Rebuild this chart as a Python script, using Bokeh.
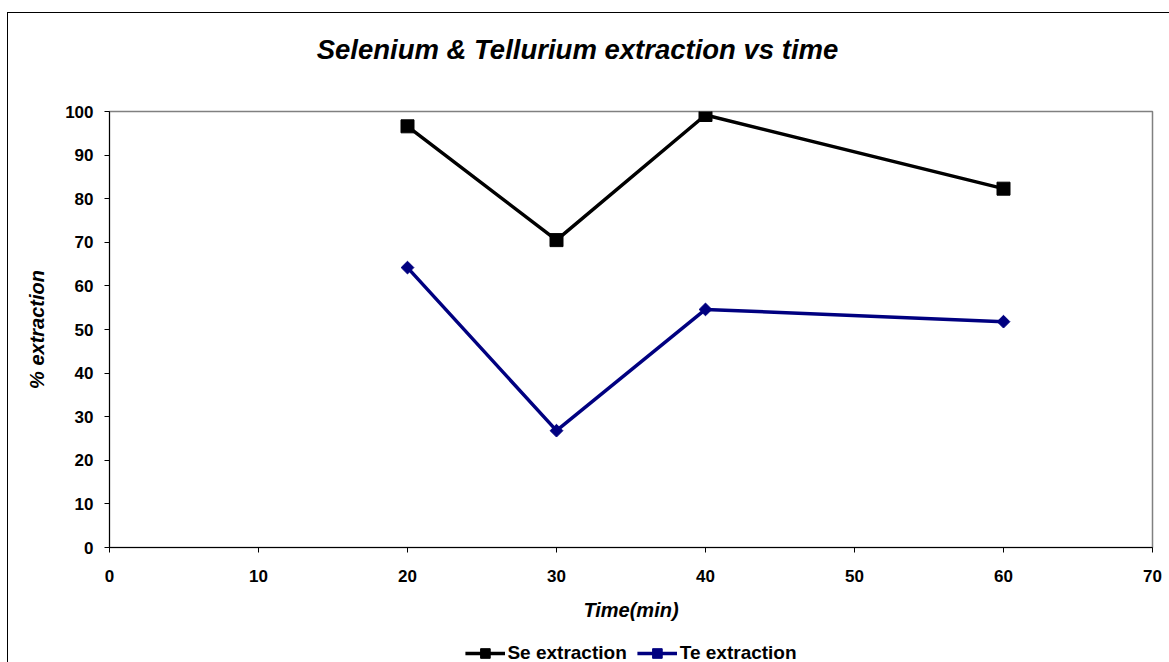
import math
from bokeh.plotting import figure
from bokeh.layouts import column
from bokeh.models import Range1d, Legend, LegendItem, FixedTicker, Label
from bokeh.embed import file_html
from bokeh.resources import INLINE

time_min = [20, 30, 40, 60]
se_extraction = [96.6, 70.5, 99.2, 82.3]
te_extraction = [64.2, 26.8, 54.6, 51.8]
x_ticks = [0, 10, 20, 30, 40, 50, 60, 70]
y_ticks = [0, 10, 20, 30, 40, 50, 60, 70, 80, 90, 100]
title_text = "Selenium & Tellurium extraction vs time"
series_names = ["Se extraction", "Te extraction"]
series_colors = ["black", "#000080"]

FONT = "Liberation Sans"
W = 1161

# ---- title strip ----
pt = figure(width=W, height=86, output_backend="svg", toolbar_location=None,
            x_range=Range1d(0, 1), y_range=Range1d(0, 1),
            x_axis_location=None, y_axis_location=None,
            min_border_left=0, min_border_right=0, min_border_top=0, min_border_bottom=0)
pt.outline_line_color = None
pt.xgrid.visible = False
pt.ygrid.visible = False
pt.add_layout(Label(x=468, y=50, x_units="screen", y_units="screen", text=title_text,
                    text_align="center", text_baseline="middle", text_font=FONT,
                    text_font_size="27.5px", text_font_style="bold italic",
                    text_color="black"))

# ---- main chart ----
p = figure(frame_width=1043, frame_height=436, output_backend="svg", toolbar_location=None,
           x_range=Range1d(0, 70), y_range=Range1d(0, 100),
           min_border_left=101, min_border_right=17, min_border_top=12, min_border_bottom=90)
p.xgrid.visible = False
p.ygrid.visible = False
p.outline_line_color = "#808080"
p.outline_line_width = 1.5
p.background_fill_color = "white"
p.border_fill_color = "white"

for ax in (p.xaxis[0], p.yaxis[0]):
    ax.axis_line_color = "black"
    ax.axis_line_width = 1
    ax.major_tick_line_color = "black"
    ax.major_tick_in = 0
    ax.major_tick_out = 5
    ax.minor_tick_line_color = None
    ax.major_label_text_font = FONT
    ax.major_label_text_font_size = "17px"
    ax.major_label_text_font_style = "bold"
    ax.major_label_text_color = "black"
    ax.axis_label_text_font = FONT
    ax.axis_label_text_font_size = "20px"
    ax.axis_label_text_font_style = "bold italic"
    ax.axis_label_text_color = "black"

p.xaxis[0].ticker = FixedTicker(ticks=x_ticks)
p.yaxis[0].ticker = FixedTicker(ticks=y_ticks)
p.xaxis[0].axis_label = "Time(min)"
p.yaxis[0].axis_label = "% extraction"
p.xaxis[0].major_label_standoff = 17
p.xaxis[0].axis_label_standoff = 14
p.yaxis[0].major_label_standoff = 11
p.yaxis[0].axis_label_standoff = 14


def draw(fig):
    a = fig.line(time_min, se_extraction, line_color=series_colors[0], line_width=3.5)
    b = fig.scatter(time_min, se_extraction, marker="square", size=13,
                    fill_color=series_colors[0], line_color=series_colors[0])
    c = fig.line(time_min, te_extraction, line_color=series_colors[1], line_width=3.5)
    d = fig.scatter(time_min, te_extraction, marker="square", size=9, angle=math.pi / 4,
                    fill_color=series_colors[1], line_color=series_colors[1])
    return [a, b], [c, d]


draw(p)

# ---- legend strip (series drawn off-view, only the legend shows) ----
pl = figure(width=W, height=32, output_backend="svg", toolbar_location=None,
            x_range=Range1d(1000, 1001), y_range=Range1d(1000, 1001),
            x_axis_location=None, y_axis_location=None,
            min_border_left=101, min_border_right=17, min_border_top=0, min_border_bottom=0)
pl.outline_line_color = None
pl.xgrid.visible = False
pl.ygrid.visible = False
se_r, te_r = draw(pl)
legend = Legend(items=[LegendItem(label=series_names[0], renderers=se_r),
                       LegendItem(label=series_names[1], renderers=te_r)],
                orientation="horizontal", location="center",
                label_text_font=FONT, label_text_font_size="19px",
                label_text_font_style="bold", label_text_color="black",
                glyph_width=40, glyph_height=24, label_height=16,
                label_standoff=3, spacing=10, padding=0, margin=0,
                border_line_color=None, background_fill_alpha=0)
pl.add_layout(legend, "center")

layout = column(pt, p, pl, spacing=0)
layout.styles = {"margin-left": "7px", "margin-top": "12px",
                 "border-top": "1px solid black", "border-left": "1px solid black"}

open("out.html", "w").write(file_html(layout, INLINE))
